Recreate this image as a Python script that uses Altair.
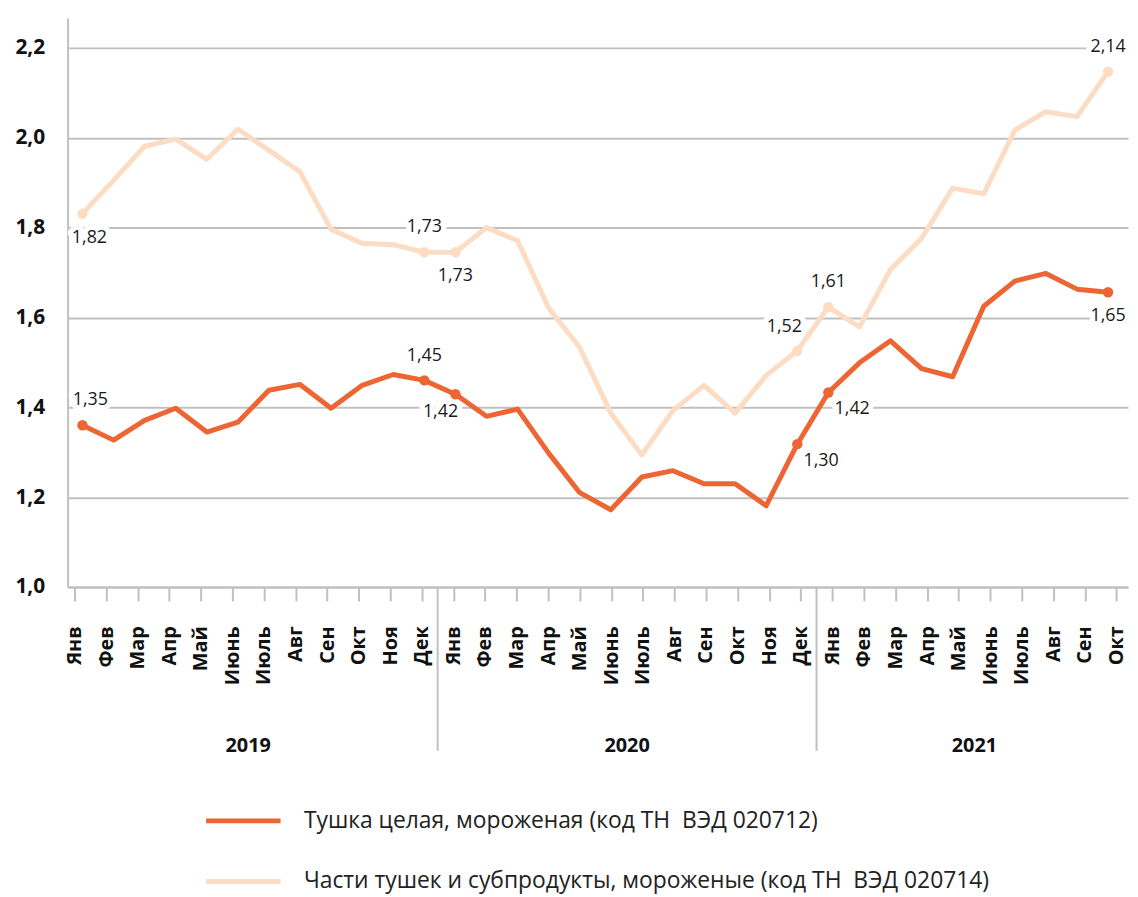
import altair as alt
import pandas as pd

# ---------------- data ----------------
MONTHS = ["Янв", "Фев", "Мар", "Апр", "Май", "Июнь", "Июль", "Авг", "Сен", "Окт", "Ноя", "Дек"]
YEARS = ["2019", "2020", "2021"]
N_POINTS = 34  # Jan 2019 .. Oct 2021

SERIES = [
    "Тушка целая, мороженая (код ТН\u00a0 ВЭД 020712)",
    "Части тушек и субпродукты, мороженые (код ТН\u00a0 ВЭД 020714)",
]

WHOLE = [1.36, 1.327, 1.371, 1.398, 1.345, 1.367, 1.438, 1.451, 1.398, 1.449, 1.473, 1.46,
         1.429, 1.38, 1.396, 1.298, 1.21, 1.172, 1.245, 1.259, 1.23, 1.23, 1.181, 1.318,
         1.433, 1.499, 1.548, 1.486, 1.468, 1.625, 1.681, 1.698, 1.663, 1.656]

PARTS = [1.831, 1.905, 1.981, 1.997, 1.952, 2.019, 1.972, 1.924, 1.796, 1.765, 1.762, 1.745,
         1.745, 1.80, 1.771, 1.621, 1.533, 1.387, 1.294, 1.393, 1.449, 1.387, 1.471, 1.526,
         1.623, 1.579, 1.707, 1.776, 1.888, 1.875, 2.017, 2.058, 2.047, 2.147]

# annotated points
ANN_IDX = [0, 0, 11, 12, 11, 12, 23, 24, 24, 23, 33, 33]
ANN_SERIES = [1, 0, 1, 1, 0, 0, 1, 1, 0, 0, 1, 0]
ANN_TEXT = ["1,82", "1,35", "1,73", "1,73", "1,45", "1,42", "1,52", "1,61", "1,42", "1,30", "2,14", "1,65"]
ANN_PLACE = ["below_right", "above_right", "above", "below", "above", "below_left",
             "above_left", "above", "right_below", "right_below", "above", "below"]

# ---------------- styling ----------------
OFFSETS = {
    "above": (0, -25), "below": (0, 24), "above_right": (8, -25), "below_right": (7, 25),
    "below_left": (-15, 18), "above_left": (-13, -24), "right_below": (24, 17),
}
COLORS = ["#EC6532", "#FCDCC2"]
GRID = "#C0C0C0"
FONT = "Open Sans"
W, H = 1068, 573
DATA_X_DOMAIN = [-15 / 31.3, (W - 15) / 31.3]
AXIS_STEP = 31.8
AXIS_X_DOMAIN = [-7 / AXIS_STEP, (W - 7) / AXIS_STEP]
Y_DOMAIN = [1.0, 1.0 + H / 452.5]

series_vals = [WHOLE, PARTS]
df = pd.DataFrame(
    [{"idx": i, "series": SERIES[s], "value": series_vals[s][i]} for s in range(2) for i in range(N_POINTS)]
)
ann = pd.DataFrame({
    "idx": ANN_IDX,
    "series": [SERIES[s] for s in ANN_SERIES],
    "value": [series_vals[s][i] for s, i in zip(ANN_SERIES, ANN_IDX)],
    "text": ANN_TEXT,
    "place": ANN_PLACE,
})

x_data = alt.X("idx:Q", scale=alt.Scale(domain=DATA_X_DOMAIN, nice=False, zero=False), axis=None)
y_scale = alt.Scale(domain=Y_DOMAIN, nice=False, zero=False)
y_enc = alt.Y(
    "value:Q",
    scale=y_scale,
    axis=alt.Axis(
        values=[1.0, 1.2, 1.4, 1.6, 1.8, 2.0, 2.2],
        labelExpr="replace(format(datum.value, '.1f'), '.', ',')",
        labelFont=FONT, labelFontSize=21, labelFontWeight="bold", labelColor="#111111",
        labelPadding=23, ticks=False, domainColor=GRID, domainWidth=2,
        gridColor=GRID, gridWidth=2, title=None,
    ),
)
color_scale = alt.Scale(domain=SERIES, range=COLORS)

halos = []
texts = []
for place, (dx, dy) in OFFSETS.items():
    sub = ann[ann["place"] == place]
    base = alt.Chart(sub).encode(x=x_data, y=alt.Y("value:Q", scale=y_scale), text="text:N")
    halos.append(base.mark_text(dx=dx, dy=dy, font=FONT, fontSize=18, stroke="white", strokeWidth=11,
                                strokeJoin="round", fill="white", align="center", baseline="middle"))
    texts.append(base.mark_text(dx=dx, dy=dy, font=FONT, fontSize=18, color="#1a1a1a",
                                align="center", baseline="middle"))

lines = alt.Chart(df).mark_line(interpolate="linear", strokeWidth=5, strokeCap="round", strokeJoin="round").encode(
    x=x_data,
    y=y_enc,
    color=alt.Color(
        "series:N", scale=color_scale, sort=SERIES,
        legend=alt.Legend(
            orient="none", legendX=137, legendY=778, direction="vertical", title=None,
            symbolType="stroke", symbolSize=5625, symbolStrokeWidth=5,
            labelFont=FONT, labelFontSize=23, labelColor="#222222", labelOffset=21,
            labelLimit=900, rowPadding=0, clipHeight=61, padding=0,
        ),
    ),
    detail="series:N",
)

points = alt.Chart(ann).mark_circle(size=110, opacity=1).encode(
    x=x_data,
    y=alt.Y("value:Q", scale=y_scale),
    color=alt.Color("series:N", scale=color_scale, legend=None),
)

data_layer = alt.layer(*halos, lines, points, *texts)

# ---------------- month axis, years, separators ----------------
label_expr = "[" + ",".join(f"'{m}'" for m in MONTHS) + "][datum.value % 12]"
year_df = pd.DataFrame({
    "pos": [5.5, 17.5, 28.5],
    "year": YEARS,
})
sep_df = pd.DataFrame({"pos": [11.5, 23.5]})
x_axis_scale = alt.Scale(domain=AXIS_X_DOMAIN, nice=False, zero=False)
month_axis = alt.Axis(
    orient="bottom", values=list(range(N_POINTS)), labelExpr=label_expr,
    labelAngle=270, labelFont=FONT, labelFontSize=20, labelFontWeight="bold",
    labelColor="#111111", labelPadding=25, labelFlush=False, labelOverlap=False,
    tickSize=14, tickWidth=2, tickColor=GRID, domainColor=GRID, domainWidth=2,
    grid=False, title=None,
)

years = alt.Chart(year_df).mark_text(font=FONT, fontSize=20, fontWeight="bold", color="#111111",
                                     align="center", baseline="middle").encode(
    x=alt.X("pos:Q", scale=x_axis_scale, axis=month_axis),
    y=alt.value(733),
    text="year:N",
)
seps = alt.Chart(sep_df).mark_rule(color=GRID, strokeWidth=2).encode(
    x=alt.X("pos:Q", scale=x_axis_scale, axis=month_axis),
    y=alt.value(574),
    y2=alt.value(738),
)
axis_layer = alt.layer(years, seps)

chart = alt.layer(data_layer, axis_layer).resolve_scale(x="independent").properties(
    width=W, height=H,
    autosize=alt.AutoSizeParams(type="none"),
    padding={"left": 60, "top": 7, "right": 2, "bottom": 309},
    background="white",
).configure_view(stroke=None)

chart.save("out.html", embed_options={"renderer": "svg", "actions": False})
